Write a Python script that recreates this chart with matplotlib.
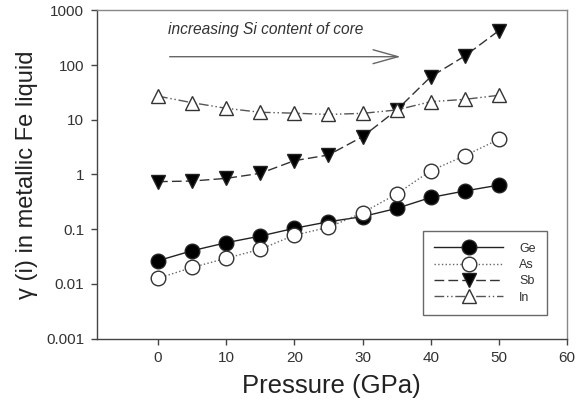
import matplotlib
matplotlib.use("Agg")
import matplotlib.pyplot as plt
from matplotlib.ticker import FixedLocator, FixedFormatter, NullLocator

plt.rcParams['font.family'] = ['Liberation Sans', 'DejaVu Sans']

pressure = [0, 5, 10, 15, 20, 25, 30, 35, 40, 45, 50]
ge = [0.0266, 0.0405, 0.0567, 0.075, 0.104, 0.137, 0.17, 0.24, 0.38, 0.50, 0.64]
as_ = [0.0127, 0.020, 0.0294, 0.043, 0.078, 0.108, 0.20, 0.44, 1.17, 2.2, 4.4]
sb = [0.74, 0.76, 0.85, 1.05, 1.79, 2.27, 4.9, 15, 61, 146, 425]
in_ = [27, 20.5, 16.2, 13.7, 13.2, 12.5, 13.1, 15.1, 21.4, 23.6, 28]

yticks = [0.001, 0.01, 0.1, 1, 10, 100, 1000]
ytick_labels = ["0.001", "0.01", "0.1", "1", "10", "100", "1000"]
xticks = [0, 10, 20, 30, 40, 50, 60]

fig = plt.figure(figsize=(5.8, 4.09), dpi=100)
ax = fig.add_axes([0.1667, 0.1719, 0.9776 - 0.1667, 0.9748 - 0.1719])

ms = 10.5
ax.plot(pressure, ge, '-', color='#222222', lw=1.0, marker='o', ms=ms,
        mfc='black', mec='#222222', label='Ge', zorder=3)
ax.plot(pressure, as_, ':', color='#666666', lw=1.0, marker='o', ms=ms,
        mfc='white', mec='#333333', mew=1.0, label='As', zorder=3)
ax.plot(pressure, sb, color='#333333', lw=1.0, ls=(0, (7, 3)), marker='v', ms=ms,
        mfc='black', mec='#222222', label='Sb', zorder=3)
ax.plot(pressure, in_, color='#555555', lw=1.0, ls=(0, (7, 2, 1, 2, 1, 2)), marker='^', ms=ms,
        mfc='white', mec='#333333', mew=1.0, label='In', zorder=3)

ax.set_yscale('log')
ax.set_ylim(0.001, 1000)
ax.set_xlim(-9, 60)
ax.yaxis.set_major_locator(FixedLocator(yticks))
ax.yaxis.set_major_formatter(FixedFormatter(ytick_labels))
ax.yaxis.set_minor_locator(NullLocator())
ax.set_xticks(xticks)

for s in ['left', 'bottom']:
    ax.spines[s].set_color('#444444')
    ax.spines[s].set_linewidth(1.0)
for s in ['top', 'right']:
    ax.spines[s].set_color('#888888')
    ax.spines[s].set_linewidth(1.0)
ax.tick_params(axis='both', which='major', direction='out', length=4, width=1.0,
               color='#444444', labelsize=11, labelcolor='#333333', pad=5)
ax.tick_params(top=False, right=False)

ax.set_xlabel('Pressure (GPa)', fontsize=18.5, color='#222222', labelpad=6)
ax.set_ylabel('γ (i) in metallic Fe liquid', fontsize=17, color='#222222', labelpad=6)

ax.text(1.4, 455, 'increasing Si content of core', style='italic', fontsize=11.2,
        color='#333333', va='center', ha='left')
ax.annotate('', xy=(36, 142), xytext=(1.3, 142),
            arrowprops=dict(arrowstyle='->,head_length=1.8,head_width=0.5',
                            color='#666666', lw=1.0))

leg = ax.legend(loc='lower right', bbox_to_anchor=(0.9575, 0.072), fontsize=9,
                frameon=True, fancybox=False, edgecolor='#444444', handlelength=5.5,
                handletextpad=1.3, borderpad=0.9, labelspacing=0.35, markerscale=1.0,
                borderaxespad=0)
leg.get_frame().set_linewidth(1.0)
for t in leg.get_texts():
    t.set_color('#333333')

fig.savefig('out.png', dpi=100)
